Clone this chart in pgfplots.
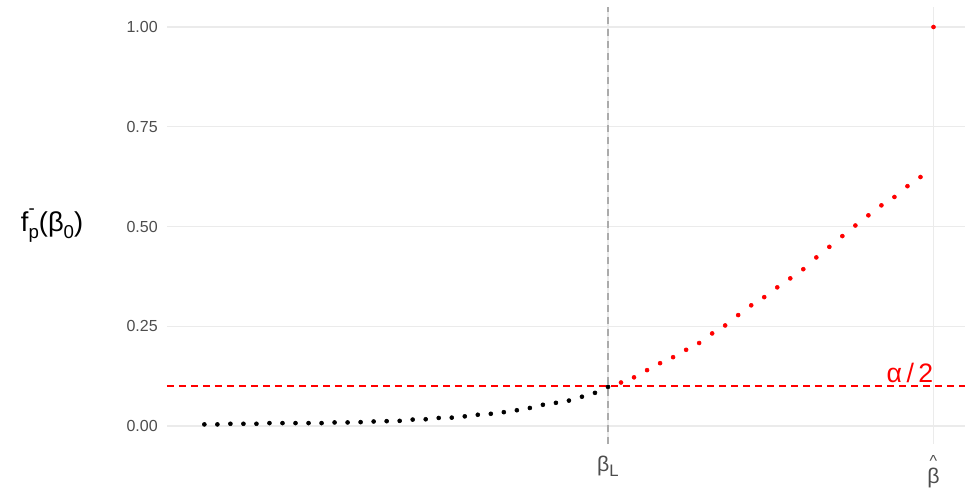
\documentclass[border=0pt]{standalone}
\usepackage{fontspec}
\setmainfont{Liberation Sans}
\usepackage{pgfplots}
\pgfplotsset{compat=1.18}
\definecolor{gridc}{HTML}{EBEBEB}
\definecolor{tickc}{HTML}{4D4D4D}
\definecolor{vlc}{HTML}{ABABAB}
\definecolor{redc}{HTML}{FF0000}
\pgfplotstableread{
x y
-31 0.0040
-30 0.0040
-29 0.0056
-28 0.0056
-27 0.0056
-26 0.0073
-25 0.0073
-24 0.0073
-23 0.0073
-22 0.0073
-21 0.0089
-20 0.0089
-19 0.0097
-18 0.0113
-17 0.0121
-16 0.0129
-15 0.0161
-14 0.0169
-13 0.0202
-12 0.0210
-11 0.0242
-10 0.0282
-9 0.0306
-8 0.0347
-7 0.0395
-6 0.0452
-5 0.0532
-4 0.0581
-3 0.0637
-2 0.0734
-1 0.0831
0 0.0980
}\blackpts
\pgfplotstableread{
x y
1 0.109
2 0.122
3 0.140
4 0.1575
5 0.1725
6 0.191
7 0.208
8 0.232
9 0.252
10 0.278
11 0.3025
12 0.323
13 0.3475
14 0.370
15 0.393
16 0.4225
17 0.449
18 0.476
19 0.5025
20 0.528
21 0.553
22 0.574
23 0.601
24 0.624
25 1.000
}\redpts
\newcommand\bhat{\vtop{\baselineskip0pt\lineskip0pt\lineskiplimit-100pt\halign{\hfil##\hfil\cr\raisebox{9.5pt}{\fontsize{12}{12}\selectfont\textasciicircum}\cr\noalign{\vskip-9.5pt}β\cr}}}
\begin{document}
\begin{tikzpicture}
\begin{axis}[
  scale only axis, width=598.5pt, height=327.75pt,
  xmin=-33.87, xmax=27.42, ymin=-0.0451, ymax=1.0501,
  axis line style={draw=none},
  major tick length=0pt, tick style={draw=none},
  ytick={0,0.25,0.5,0.75,1}, yticklabels={0.00,0.25,0.50,0.75,1.00},
  xtick={0,25},
  xticklabels={{β\raisebox{-0.25em}{\fontsize{12.5}{12.5}\selectfont L}},{{\fontsize{12}{12}\selectfont\textasciicircum}\\[-3.5pt]β}},
  grid=major, major grid style={gridc, line width=0.9pt},
  yticklabel style={font=\fontsize{12}{12}\selectfont, text=tickc, anchor=east, inner sep=0pt, xshift=-6.75pt},
  xticklabel style={font=\fontsize{16}{16}\selectfont, text=tickc, anchor=north, inner sep=0pt, yshift=-8.5pt, align=center},
  ylabel={f\rlap{\raisebox{0.62em}{\fontsize{14}{14}\selectfont -}}\raisebox{-0.28em}{\fontsize{14}{14}\selectfont p}(β\raisebox{-0.28em}{\fontsize{14}{14}\selectfont 0})},
  ylabel style={rotate=-90, at={(axis description cs:-0.144,0.5)}, anchor=center, font=\fontsize{20.5}{20.5}\selectfont, inner sep=0pt},
]
\addplot[vlc, line width=1.1pt, dash pattern=on 5.25pt off 3.75pt] coordinates {(0,-0.0451) (0,1.0501)};
\addplot[redc, line width=1.3pt, dash pattern=on 5.25pt off 3.75pt] coordinates {(-33.87,0.1) (27.42,0.1)};
\addplot[only marks, mark=*, mark size=1.5pt, black] table[x=x,y=y]{\blackpts};
\addplot[only marks, mark=*, mark size=1.5pt, redc, mark options={draw=redc, fill=redc}] table[x=x,y=y]{\redpts};
\node[anchor=base east, inner sep=0pt, text=redc, font=\fontsize{20}{20}\selectfont] at (axis cs:25,0.1) [yshift=3pt] {α\,/\,2};
\end{axis}
\path (current axis.south west) ++(-125.25pt,-33.75pt) rectangle ++(725.25pt,366.75pt);
\end{tikzpicture}
\end{document}
